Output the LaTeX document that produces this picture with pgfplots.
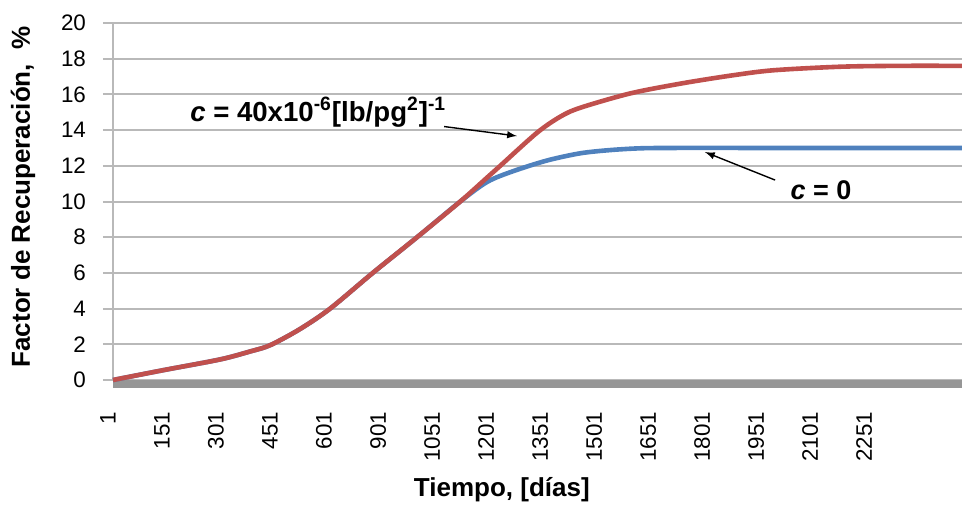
\documentclass[border=0pt]{standalone}
\usepackage{pgfplots}
\pgfplotsset{compat=1.18}
\usepackage{fontspec}
\setmainfont{Liberation Sans}

\definecolor{serieRed}{RGB}{192,80,77}
\definecolor{serieBlue}{RGB}{79,129,189}
\definecolor{gridGray}{RGB}{185,185,185}
\definecolor{baseGray}{RGB}{150,150,150}

% Factor de recuperacion (%) vs. tiempo; x in label-interval units (one unit = 150 dias)
\pgfplotstableread{
x y
0.00 0.00
0.93 0.55
1.98 1.15
2.54 1.60
2.91 1.95
3.46 2.85
4.02 4.00
4.81 6.00
5.63 8.00
6.43 10.00
6.93 11.35
7.17 12.00
7.85 13.85
8.28 14.75
8.65 15.25
9.57 16.05
10.50 16.60
11.43 17.05
12.22 17.35
13.46 17.55
14.57 17.60
15.72 17.60
}\compresible

\pgfplotstableread{
x y
0.00 0.00
0.93 0.55
1.98 1.15
2.54 1.60
2.91 1.95
3.46 2.85
4.02 4.00
4.81 6.00
5.63 8.00
6.43 10.00
6.93 11.10
7.41 11.70
8.04 12.30
8.65 12.70
9.20 12.88
9.76 12.98
10.40 13.00
12.00 13.00
15.72 13.00
}\incompresible

\pgfplotstableread{
x y
0.00 -0.22
15.72 -0.22
}\base

\begin{document}
\begin{tikzpicture}
\useasboundingbox (-56.5pt,-62pt) rectangle (424.5pt,190pt);
\begin{axis}[
  at={(0,0)}, anchor=south west,
  scale only axis,
  width=424.5pt, height=178.5pt,
  xmin=0, xmax=15.72,
  ymin=0, ymax=20,
  clip=false,
  axis x line*=bottom, axis y line*=left,
  x axis line style={draw=none},
  y axis line style={draw=gridGray, line width=1pt, -},
  ytick={0,2,...,20},
  xtick={0,1,...,14},
  xticklabels={1,151,301,451,601,901,1051,1201,1351,1501,1651,1801,1951,2101,2251},
  ymajorgrids,
  grid style={draw=gridGray, line width=1pt},
  tick align=outside,
  y tick style={draw=gridGray, line width=1pt},
  x tick style={draw=none},
  major tick length=5pt,
  tick label style={text=black},
  yticklabel style={font=\fontsize{11.2}{13}\selectfont},
  /pgf/number format/assume math mode=true,
  yticklabel shift=5pt,
  xticklabel style={font=\fontsize{11.2}{13}\selectfont, xshift=-2.5pt, rotate=90, anchor=east},
  xticklabel shift=7.5pt,
  xlabel={\bfseries Tiempo, [días]},
  xlabel style={at={(axis description cs:0.458,-0.308)}, anchor=center,
    font=\fontsize{13}{15}\selectfont},
  ylabel={\bfseries Factor de Recuperación,\ \ \%},
  ylabel style={at={(axis description cs:-0.106,0.513)}, anchor=center,
    font=\fontsize{13}{15}\selectfont},
]
\addplot[baseGray, line width=4pt] table[x=x,y=y] {\base};
\addplot[serieBlue, line width=2.3pt, smooth, tension=0.5] table[x=x,y=y] {\incompresible};
\addplot[serieRed, line width=2.3pt, smooth, tension=0.5] table[x=x,y=y] {\compresible};

\draw[-latex, black, line width=0.7pt] (axis cs:6.13,14.20) -- (axis cs:7.48,13.67);
\draw[-latex, black, line width=0.7pt] (axis cs:12.26,11.20) -- (axis cs:10.96,12.77);

\node[font=\fontsize{13.8}{16}\selectfont\bfseries] at (axis cs:3.80,15.0)
  {\textit{c} = 40x10\textsuperscript{-6}[lb/pg\textsuperscript{2}]\textsuperscript{-1}};
\node[font=\fontsize{13.5}{16}\selectfont\bfseries] at (axis cs:13.11,10.64)
  {\textit{c} = 0};
\end{axis}
\end{tikzpicture}
\end{document}
